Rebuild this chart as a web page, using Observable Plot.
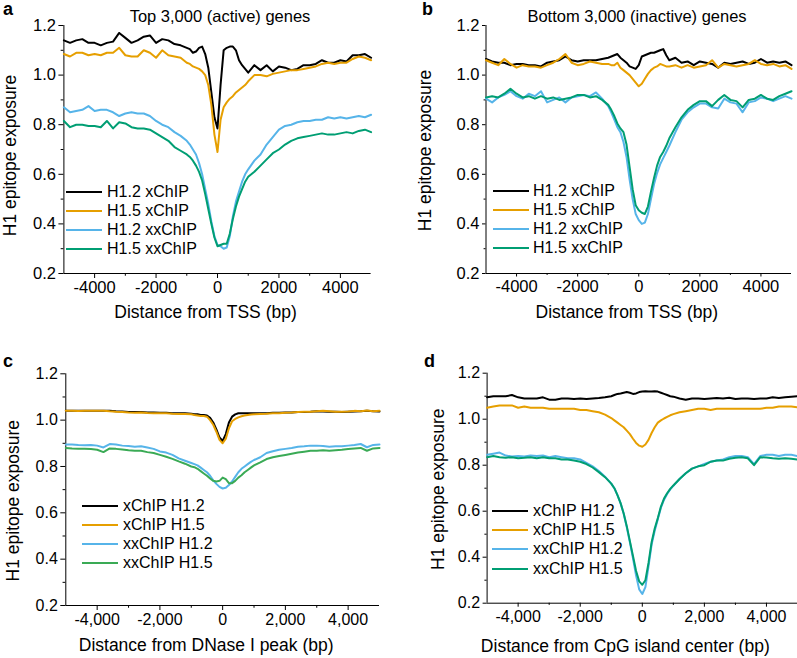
<!DOCTYPE html>
<html><head><meta charset="utf-8">
<script src="https://cdn.jsdelivr.net/npm/d3@7"></script>
<script src="https://cdn.jsdelivr.net/npm/@observablehq/plot@0.6"></script>
<style>
body{margin:0;background:#fff;}
#chart{position:relative;width:797px;height:658px;overflow:hidden;font-family:"Liberation Sans",Arial,sans-serif;color:#000;background:#fff;}
#chart svg{position:absolute;}
.lbl{position:absolute;font-weight:bold;font-size:18px;line-height:1;z-index:2;}
.ttl{position:absolute;font-size:16.5px;line-height:1;white-space:nowrap;transform:translateX(-50%);z-index:2;}
.leg{position:absolute;font-size:16px;z-index:2;}
.leg .row{display:flex;align-items:center;white-space:nowrap;}
.leg .sw{display:inline-block;width:36px;height:2px;margin-right:5px;}
</style></head><body><div id="chart"></div><script>
// distance grid (bp)
const X = [-5000,-4800,-4600,-4400,-4200,-4000,-3800,-3600,-3400,-3200,
  -3000,-2800,-2600,-2400,-2200,-2000,-1800,-1600,-1400,-1200,
  -1000,-900,-800,-700,-600,-500,-400,-300,-200,-100,
  0,100,200,300,400,500,600,700,800,900,
  1000,1200,1400,1600,1800,2000,2200,2400,2600,2800,
  3000,3200,3400,3600,3800,4000,4200,4400,4600,4800,
  5000];
const X_MAJOR = [-4000,-2000,0,2000,4000];
const X_MINOR = [-3000,-1000,1000,3000];
const Y_MAJOR = [0.2,0.4,0.6,0.8,1.0,1.2];
const Y_MINOR = [0.3,0.5,0.7,0.9,1.1];
const X_DOMAIN = [-5000,5000];
const Y_DOMAIN = [0.2,1.2];

// panel a: Top 3,000 (active) genes
const aH12x = [1.14,1.13,1.14,1.145,1.13,1.13,1.12,1.13,1.135,1.17,
  1.15,1.13,1.14,1.155,1.16,1.13,1.145,1.14,1.125,1.12,
  1.11,1.105,1.09,1.095,1.11,1.115,1.085,1.03,0.93,0.83,
  0.785,0.96,1.10,1.11,1.115,1.115,1.10,1.06,1.04,1.025,
  1.01,1.04,1.02,1.04,1.015,1.035,1.03,1.02,1.025,1.04,
  1.04,1.045,1.06,1.05,1.05,1.06,1.055,1.08,1.08,1.085,
  1.07];
const aH15x = [1.085,1.075,1.09,1.09,1.08,1.085,1.08,1.09,1.09,1.11,
  1.08,1.075,1.075,1.1,1.09,1.07,1.1,1.08,1.075,1.07,
  1.05,1.045,1.035,1.03,1.025,1.015,1.0,0.96,0.88,0.76,
  0.69,0.82,0.87,0.89,0.905,0.915,0.93,0.94,0.95,0.96,
  0.975,1.0,1.0,0.995,1.005,1.01,1.015,1.02,1.02,1.025,
  1.03,1.035,1.045,1.05,1.045,1.05,1.05,1.065,1.075,1.07,
  1.06];
const aH12xx = [0.87,0.85,0.855,0.86,0.875,0.855,0.86,0.86,0.85,0.835,
  0.845,0.85,0.845,0.845,0.835,0.815,0.80,0.79,0.77,0.755,
  0.735,0.72,0.70,0.68,0.645,0.60,0.54,0.48,0.41,0.35,
  0.315,0.31,0.30,0.305,0.35,0.43,0.49,0.53,0.57,0.60,
  0.62,0.655,0.68,0.72,0.75,0.78,0.795,0.80,0.81,0.815,
  0.815,0.82,0.82,0.83,0.825,0.83,0.825,0.83,0.835,0.83,
  0.84];
const aH15xx = [0.815,0.79,0.80,0.80,0.795,0.795,0.79,0.815,0.785,0.81,
  0.805,0.79,0.785,0.785,0.78,0.765,0.75,0.735,0.71,0.695,
  0.68,0.67,0.655,0.635,0.61,0.575,0.52,0.46,0.40,0.345,
  0.31,0.315,0.32,0.32,0.36,0.42,0.47,0.51,0.54,0.57,
  0.59,0.61,0.635,0.66,0.685,0.70,0.72,0.735,0.745,0.75,
  0.755,0.76,0.765,0.76,0.76,0.765,0.77,0.765,0.775,0.78,
  0.77];

// panel b: Bottom 3,000 (inactive) genes
const bH12x = [1.065,1.055,1.05,1.05,1.04,1.045,1.045,1.04,1.04,1.035,
  1.05,1.055,1.06,1.075,1.06,1.055,1.06,1.06,1.06,1.065,
  1.07,1.075,1.08,1.085,1.07,1.06,1.05,1.035,1.03,1.025,
  1.04,1.075,1.08,1.085,1.09,1.09,1.095,1.10,1.105,1.08,
  1.06,1.07,1.05,1.055,1.04,1.055,1.05,1.045,1.03,1.05,
  1.045,1.05,1.055,1.045,1.05,1.065,1.05,1.055,1.05,1.055,
  1.04];
const bH15x = [1.06,1.05,1.04,1.065,1.045,1.03,1.04,1.035,1.035,1.03,
  1.04,1.05,1.065,1.085,1.05,1.04,1.045,1.055,1.05,1.045,
  1.045,1.04,1.04,1.05,1.03,1.02,1.01,1.0,0.985,0.97,
  0.955,0.965,0.985,1.005,1.02,1.03,1.035,1.045,1.04,1.035,
  1.035,1.04,1.03,1.04,1.03,1.035,1.04,1.06,1.03,1.045,
  1.04,1.035,1.04,1.045,1.06,1.045,1.04,1.045,1.035,1.04,
  1.025];
const bH12xx = [0.905,0.89,0.91,0.92,0.935,0.915,0.905,0.925,0.915,0.935,
  0.89,0.90,0.91,0.89,0.91,0.915,0.92,0.915,0.93,0.905,
  0.875,0.85,0.82,0.79,0.77,0.73,0.67,0.58,0.50,0.44,
  0.415,0.40,0.405,0.44,0.50,0.56,0.605,0.64,0.665,0.69,
  0.715,0.77,0.82,0.85,0.87,0.885,0.885,0.87,0.865,0.905,
  0.89,0.885,0.85,0.89,0.895,0.91,0.905,0.895,0.905,0.915,
  0.905];
const bH15xx = [0.91,0.915,0.91,0.925,0.945,0.925,0.91,0.915,0.905,0.915,
  0.905,0.91,0.90,0.905,0.91,0.92,0.92,0.91,0.915,0.90,
  0.88,0.86,0.835,0.805,0.785,0.77,0.72,0.63,0.54,0.475,
  0.455,0.445,0.44,0.47,0.53,0.585,0.635,0.67,0.69,0.715,
  0.745,0.79,0.83,0.86,0.88,0.895,0.895,0.875,0.90,0.92,
  0.90,0.895,0.87,0.90,0.905,0.92,0.905,0.90,0.915,0.925,
  0.935];

// panel c: DNase I peaks
const cH12x = [1.04,1.04,1.04,1.04,1.04,1.04,1.04,1.04,1.038,1.037,
  1.035,1.035,1.035,1.033,1.033,1.032,1.032,1.03,1.03,1.03,
  1.028,1.025,1.025,1.022,1.022,1.02,1.01,0.99,0.96,0.925,
  0.91,0.94,0.99,1.015,1.025,1.03,1.03,1.03,1.03,1.03,
  1.03,1.03,1.03,1.032,1.032,1.033,1.033,1.035,1.035,1.036,
  1.038,1.037,1.036,1.036,1.035,1.036,1.037,1.038,1.04,1.038,
  1.037];
const cH15x = [1.04,1.04,1.039,1.04,1.04,1.04,1.041,1.038,1.036,1.035,
  1.033,1.032,1.033,1.031,1.03,1.03,1.03,1.028,1.027,1.027,
  1.025,1.022,1.02,1.018,1.018,1.015,1.0,0.98,0.95,0.915,
  0.90,0.92,0.965,0.995,1.005,1.012,1.017,1.02,1.022,1.024,
  1.025,1.027,1.028,1.03,1.03,1.032,1.033,1.035,1.036,1.036,
  1.038,1.04,1.038,1.036,1.036,1.037,1.04,1.038,1.042,1.038,
  1.04];
const cH12xx = [0.895,0.895,0.893,0.892,0.893,0.89,0.882,0.897,0.895,0.89,
  0.888,0.885,0.887,0.882,0.876,0.865,0.86,0.85,0.835,0.825,
  0.815,0.81,0.805,0.795,0.785,0.775,0.76,0.74,0.725,0.712,
  0.705,0.708,0.72,0.735,0.755,0.775,0.79,0.80,0.81,0.82,
  0.828,0.84,0.858,0.866,0.872,0.876,0.88,0.885,0.887,0.89,
  0.89,0.888,0.885,0.887,0.887,0.89,0.893,0.897,0.883,0.893,
  0.895];
const cH15xx = [0.88,0.878,0.877,0.877,0.875,0.872,0.862,0.878,0.876,0.873,
  0.87,0.868,0.868,0.862,0.858,0.85,0.842,0.833,0.822,0.812,
  0.80,0.797,0.79,0.78,0.77,0.76,0.748,0.738,0.735,0.738,
  0.752,0.745,0.728,0.728,0.738,0.752,0.762,0.775,0.785,0.795,
  0.805,0.818,0.832,0.84,0.845,0.85,0.855,0.86,0.864,0.868,
  0.868,0.87,0.868,0.87,0.872,0.875,0.878,0.88,0.868,0.878,
  0.88];

// panel d: CpG island centers
const dH12x = [1.095,1.10,1.10,1.10,1.105,1.095,1.09,1.09,1.09,1.095,
  1.085,1.085,1.09,1.09,1.088,1.09,1.088,1.09,1.092,1.095,
  1.10,1.105,1.11,1.112,1.115,1.118,1.115,1.11,1.112,1.118,
  1.12,1.122,1.12,1.12,1.122,1.12,1.115,1.11,1.105,1.10,
  1.098,1.09,1.085,1.09,1.09,1.088,1.09,1.092,1.09,1.093,
  1.088,1.09,1.09,1.088,1.09,1.09,1.095,1.092,1.095,1.098,
  1.10];
const dH15x = [1.05,1.055,1.06,1.06,1.06,1.05,1.055,1.05,1.05,1.05,
  1.045,1.045,1.045,1.045,1.045,1.04,1.04,1.035,1.03,1.02,
  1.005,0.995,0.985,0.975,0.965,0.95,0.935,0.915,0.897,0.885,
  0.88,0.89,0.91,0.94,0.965,0.985,0.995,1.003,1.01,1.017,
  1.022,1.03,1.035,1.04,1.045,1.045,1.04,1.045,1.045,1.045,
  1.045,1.045,1.045,1.045,1.045,1.05,1.05,1.055,1.055,1.055,
  1.052];
const dH12xx = [0.845,0.85,0.855,0.842,0.838,0.84,0.838,0.842,0.84,0.842,
  0.835,0.84,0.835,0.83,0.83,0.825,0.81,0.795,0.775,0.75,
  0.72,0.70,0.67,0.635,0.59,0.53,0.465,0.395,0.32,0.26,
  0.24,0.27,0.36,0.455,0.515,0.565,0.615,0.65,0.675,0.695,
  0.71,0.74,0.765,0.785,0.795,0.805,0.815,0.82,0.825,0.835,
  0.84,0.84,0.835,0.805,0.84,0.845,0.845,0.84,0.845,0.845,
  0.84];
const dH15xx = [0.835,0.84,0.835,0.832,0.835,0.83,0.832,0.835,0.83,0.835,
  0.83,0.83,0.825,0.825,0.82,0.815,0.805,0.79,0.77,0.748,
  0.72,0.70,0.67,0.635,0.59,0.535,0.47,0.405,0.34,0.295,
  0.28,0.30,0.375,0.465,0.525,0.57,0.62,0.655,0.678,0.697,
  0.712,0.74,0.765,0.785,0.795,0.80,0.815,0.82,0.82,0.828,
  0.832,0.835,0.83,0.80,0.835,0.833,0.83,0.828,0.83,0.828,
  0.825];

const fmtY = d3.format(".1f");
const fmtPlain = d => (d < 0 ? "-" : "") + Math.abs(d);
const fmtComma = d => (d < 0 ? "-" : "") + d3.format(",")(Math.abs(d));

const panels = [
  {left:0, top:0, width:398, height:329, mL:63.4, mR:27.4, mT:25, mB:56, tick:5, tickFont:16.5,
   xFormat: fmtPlain, xlabel:"Distance from TSS (bp)", xdx:-12, xdy:39, ydx:-54, ydy:6,
   names:["H1.2 xChIP","H1.5 xChIP","H1.2 xxChIP","H1.5 xxChIP"],
   values:[aH12x,aH15x,aH12xx,aH15xx], colors:["#000000","#E69F00","#56B4E9","#009E73"],
   title:"Top 3,000 (active) genes", titleX:220, letter:"a", letterX:3, letterY:-0.2,
   legX:66, legY:182, legGap:5},
  {left:397, top:0, width:400, height:329, mL:88.5, mR:6, mT:25, mB:56, tick:3.5, tickFont:16.5,
   xFormat: fmtPlain, xlabel:"Distance from TSS (bp)", xdx:-12, xdy:39, ydx:-60.5, ydy:1,
   names:["H1.2 xChIP","H1.5 xChIP","H1.2 xxChIP","H1.5 xxChIP"],
   values:[bH12x,bH15x,bH12xx,bH15xx], colors:["#000000","#E69F00","#56B4E9","#009E73"],
   title:"Bottom 3,000 (inactive) genes", titleX:637, letter:"b", letterX:422, letterY:-0.2,
   legX:493, legY:181, legGap:4},
  {left:0, top:329, width:398, height:329, mL:65.3, mR:19, mT:44.3, mB:53, tick:5, tickFont:16,
   xFormat: fmtComma, xlabel:"Distance from DNase I peak (bp)", xdx:-16.5, xdy:40, ydx:-52.3, ydy:11,
   names:["xChIP H1.2","xChIP H1.5","xxChIP H1.2","xxChIP H1.5"],
   values:[cH12x,cH15x,cH12xx,cH15xx], colors:["#000000","#E69F00","#56B4E9","#3AAA55"],
   title:null, letter:"c", letterX:3, letterY:351.8,
   legX:82, legY:496.3, legGap:5},
  {left:397, top:329, width:400, height:329, mL:89.6, mR:0, mT:43.7, mB:55.3, tick:4, tickFont:16,
   xFormat: fmtComma, xlabel:"Distance from CpG island center (bp)", xdx:-17, xdy:43, ydx:-48.6, ydy:1,
   names:["xChIP H1.2","xChIP H1.5","xxChIP H1.2","xxChIP H1.5"],
   values:[dH12x,dH15x,dH12xx,dH15xx], colors:["#000000","#E69F00","#56B4E9","#009E73"],
   title:null, letter:"d", letterX:424, letterY:351.8,
   legX:492, legY:501.5, legGap:5}
];

const chart = document.getElementById("chart");
const FONT = '"Liberation Sans", Arial, sans-serif';

for (const p of panels) {
  const rows = [];
  p.names.forEach((name, k) => p.values[k].forEach((v, i) => rows.push({x: X[i], y: v, s: name})));
  const svg = Plot.plot({
    width: p.width, height: p.height,
    marginLeft: p.mL, marginRight: p.mR, marginTop: p.mT, marginBottom: p.mB,
    style: {fontFamily: FONT, fontSize: p.tickFont + "px", background: "transparent", overflow: "visible", color: "#000"},
    x: {domain: X_DOMAIN},
    y: {domain: Y_DOMAIN},
    color: {domain: p.names, range: p.colors},
    marks: [
      Plot.axisY({ticks: Y_MAJOR, tickSize: p.tick, tickPadding: 3, tickFormat: fmtY, label: null}),
      Plot.axisY({ticks: Y_MINOR, tickSize: p.tick * 0.55, tickFormat: () => "", label: null}),
      Plot.axisX({ticks: X_MAJOR, tickSize: p.tick, tickPadding: 3, tickFormat: p.xFormat, label: null}),
      Plot.axisX({ticks: X_MINOR, tickSize: p.tick * 0.55, tickFormat: () => "", label: null}),
      Plot.ruleX([X_DOMAIN[0]], {y1: Y_DOMAIN[0], y2: Y_DOMAIN[1], stroke: "#000", strokeWidth: 1}),
      Plot.ruleY([Y_DOMAIN[0]], {x1: X_DOMAIN[0], x2: X_DOMAIN[1], stroke: "#000", strokeWidth: 1}),
      Plot.line(rows, {x: "x", y: "y", z: "s", stroke: "s", strokeWidth: 2}),
      Plot.text([p.xlabel], {text: d => d, frameAnchor: "bottom", textAnchor: "middle", lineAnchor: "middle", dx: p.xdx, dy: p.xdy, fontSize: 17.5}),
      Plot.text(["H1 epitope exposure"], {text: d => d, frameAnchor: "left", textAnchor: "middle", lineAnchor: "middle", rotate: -90, dx: p.ydx, dy: p.ydy, fontSize: 17.5})
    ]
  });
  svg.style.left = p.left + "px";
  svg.style.top = p.top + "px";
  chart.appendChild(svg);

  // panel letter
  const L = document.createElement("div");
  L.className = "lbl"; L.textContent = p.letter;
  L.style.left = p.letterX + "px"; L.style.top = p.letterY + "px";
  chart.appendChild(L);

  if (p.title) {
    const T = document.createElement("div");
    T.className = "ttl"; T.textContent = p.title;
    T.style.left = p.titleX + "px"; T.style.top = "7.5px";
    chart.appendChild(T);
  }

  // legend
  const G = document.createElement("div");
  G.className = "leg";
  G.style.left = p.legX + "px"; G.style.top = p.legY + "px";
  p.names.forEach((name, k) => {
    const r = document.createElement("div");
    r.className = "row"; r.style.height = "19.2px";
    const sw = document.createElement("span");
    sw.className = "sw"; sw.style.background = p.colors[k]; sw.style.marginRight = p.legGap + "px";
    const t = document.createElement("span"); t.textContent = name;
    r.appendChild(sw); r.appendChild(t);
    G.appendChild(r);
  });
  chart.appendChild(G);
}
</script></body></html>
